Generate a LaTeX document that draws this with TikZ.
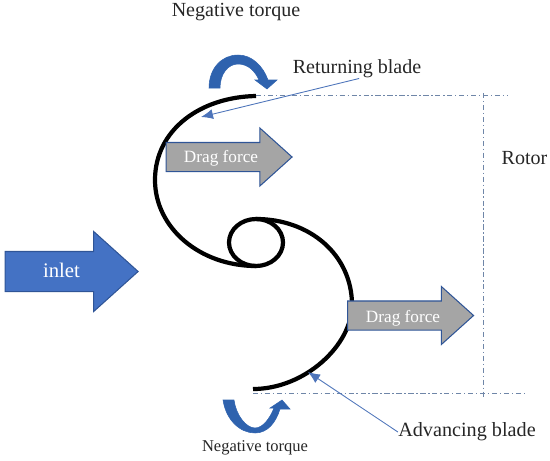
\documentclass[tikz,border=0pt]{standalone}
\usepackage{fontspec}
\setmainfont{Liberation Serif}
\usetikzlibrary{shapes.arrows, arrows.meta, positioning, calc}
\definecolor{flowblue}{HTML}{4472C4}
\definecolor{edgeblue}{HTML}{2F5597}
\definecolor{turnblue}{HTML}{2E62AE}
\definecolor{dragfill}{HTML}{A5A5A5}
\definecolor{axisgray}{HTML}{6F86A8}

\begin{document}
\begin{tikzpicture}[
  x=0.02cm, y=-0.02cm,
  flow/.style={single arrow, single arrow head indent=0pt, single arrow tip angle=84, draw=edgeblue, line width=0.6pt, inner sep=0pt, text depth=0pt},
  inletarrow/.style={flow, fill=flowblue, minimum height=2.66cm, minimum width=1.58cm, text height=0.78cm, single arrow head extend=0.4cm},
  dragarrow/.style={flow, fill=dragfill, minimum height=2.52cm, minimum width=1.14cm, text height=0.56cm, single arrow head extend=0.29cm},
  blade/.style={line width=2.4pt, black},
  axis/.style={axisgray, line width=0.5pt, dash pattern=on 3pt off 1.5pt on 0.8pt off 1.5pt},
  pointer/.style={-{Latex[length=2.4mm, width=2mm]}, flowblue!85!gray, line width=0.5pt},
  turn/.style={fill=turnblue, draw=turnblue, line width=0.3pt},
  caption/.style={font=\fontsize{11.4}{13}\selectfont, text=black!85, inner sep=0pt},
  flowtext/.style={font=\fontsize{9.8}{12}\selectfont, text=white, inner sep=0pt},
]
  \useasboundingbox (0,0) rectangle (550,460);

  % axes of the rotor
  \draw[axis] (256,95) -- (508,95);
  \draw[axis] (253,393) -- (524,393);
  \draw[axis] (483,93) -- (483,398);

  % blades
  \draw[blade] (256,96) .. controls (200,97) and (155,130) .. (155,180)
    .. controls (155,228) and (200,266) .. (256,266);
  \draw[blade] (256,242.5) ellipse (27 and 23.5);
  \draw[blade] (256,219) .. controls (310,219) and (352,255) .. (352,305)
    .. controls (352,345) and (305,389) .. (253,389);

  % flow arrows
  \node[inletarrow] (inlet) at (60.5,271.5) {};
  \node[dragarrow] (dragtop) at (221,157) {};
  \node[dragarrow] (dragbottom) at (402.5,315.5) {};
  \node[flowtext, font=\fontsize{11.8}{14}\selectfont] at (61.5,270) {inlet};
  \node[flowtext] at (221,158) {Drag force};
  \node[flowtext] at (403,318) {Drag force};

  % torque arrows
  \path[turn] (209,88) .. controls (209,68) and (222,55) .. (238,55)
    .. controls (252,55) and (263,66) .. (268,80) -- (277,80) -- (267,89) -- (255,80)
    -- (259,80) .. controls (255,71) and (248,64) .. (238,64)
    .. controls (228,64) and (220,74) .. (220,88) -- cycle;
  \path[turn] (223,400) .. controls (226,420) and (240,433) .. (255,433)
    .. controls (268,433) and (276,422) .. (280,409) -- (290,409) -- (282,400) -- (270,408)
    -- (274,408) .. controls (270,418) and (263,428) .. (255,428)
    .. controls (246,428) and (236,415) .. (234,400) -- cycle;

  % labels
  \node[caption] (toptorque) at (236,12) {Negative torque};
  \node[caption] (returning) at (357,69) {Returning blade};
  \node[caption] (rotor) at (524.5,158) {Rotor};
  \node[caption, font=\fontsize{9.4}{11}\selectfont] (bottomtorque) at (255,448) {Negative torque};
  \node[caption, font=\fontsize{11.5}{13}\selectfont] (advancing) at (467,432) {Advancing blade};

  % pointers
  \coordinate (returningtip) at (201,117);
  \coordinate (advancingtip) at (308,372);
  \draw[pointer] ([xshift=38]returning.south west) -- (returningtip);
  \draw[pointer] (advancing.west) -- (advancingtip);
\end{tikzpicture}
\end{document}
